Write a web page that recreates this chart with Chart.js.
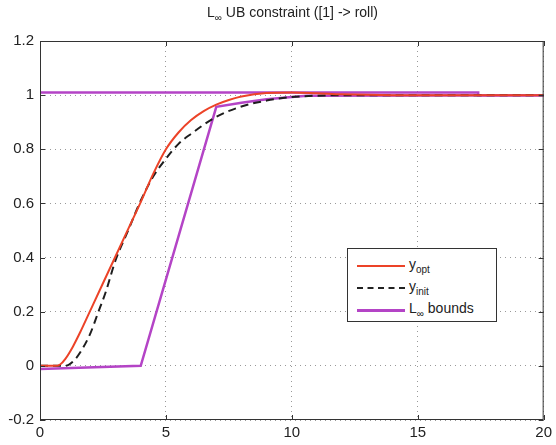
<!DOCTYPE html>
<html>
<head>
<meta charset="utf-8">
<script src="https://cdn.jsdelivr.net/npm/chart.js@4.4.1/dist/chart.umd.min.js"></script>
<style>
body { margin: 0; background: #fff; font-family: "Liberation Sans", Arial, sans-serif; }
#wrap { position: relative; width: 556px; height: 445px; }
#title { position: absolute; left: 40px; width: 505px; top: 4px; text-align: center; font-size: 14px; color: #222; z-index: 2; }
#title sub { font-size: 10px; }
#legend { position: absolute; left: 347px; top: 248px; width: 150px; height: 74px; border: 1px solid #333; background: #fff; box-sizing: border-box; z-index: 2; }
.row { position: absolute; left: 0; width: 148px; height: 22px; font-size: 14px; color: #222; }
.row .ln { position: absolute; left: 9px; width: 48px; top: 10px; }
.row .tx { position: absolute; left: 61px; top: 1px; white-space: nowrap; }
.row sub { font-size: 10px; }
</style>
</head>
<body>
<div id="wrap">
  <canvas id="chart" width="556" height="445"></canvas>
  <div id="title">L<sub>∞</sub> UB constraint ([1] -&gt; roll)</div>
  <div id="legend">
    <div class="row" style="top:6px"><div class="ln" style="border-top:2px solid #ec4328"></div><div class="tx">y<sub>opt</sub></div></div>
    <div class="row" style="top:28px"><div class="ln" style="border-top:2px dashed #222"></div><div class="tx">y<sub>init</sub></div></div>
    <div class="row" style="top:50px"><div class="ln" style="border-top:3px solid #b444c6"></div><div class="tx">L<sub>∞</sub> bounds</div></div>
  </div>
</div>
<script>
// values
const tOpt = [0, 0.6, 0.8, 1.0, 1.3, 1.6, 2.0, 2.5, 3.0, 3.5, 4.0, 4.5, 5.0, 5.5, 6.0, 6.5, 7.0, 7.5, 8.0, 9.0, 10, 11, 12, 14, 20];
const yOpt = [0, 0, 0.005, 0.025, 0.07, 0.125, 0.205, 0.305, 0.405, 0.505, 0.605, 0.71, 0.80, 0.862, 0.908, 0.941, 0.965, 0.982, 0.995, 1.008, 1.01, 1.007, 1.003, 1.0, 1.0];

const tInit = [0, 1.0, 1.3, 1.6, 2.0, 2.3, 2.6, 3.0, 3.5, 4.0, 4.5, 5.0, 5.5, 6.0, 7.0, 8.0, 9.0, 10, 11, 12, 15, 20];
const yInit = [0, 0, 0.015, 0.05, 0.12, 0.195, 0.27, 0.39, 0.5, 0.61, 0.7, 0.765, 0.82, 0.857, 0.92, 0.958, 0.98, 0.993, 0.998, 1.0, 1.0, 1.0];

const tUpper = [0, 17.4, 17.4, 20];
const yUpper = [1.01, 1.01, 1.0, 1.0];

const tLower = [0, 4, 7, 8, 9, 10, 10.6, 20];
const yLower = [-0.012, 0, 0.957, 0.972, 0.985, 0.993, 0.998, 1.0];

const xTicks = [0, 5, 10, 15, 20];
const yTicks = [-0.2, 0, 0.2, 0.4, 0.6, 0.8, 1, 1.2];

const RED = "#ec4328";
const MAG = "#b444c6";

function pts(t, y) {
  return t.map((v, i) => ({ x: v, y: y[i] }));
}

// box around the axes plus small inward ticks
const boxPlugin = {
  id: "box",
  afterDraw(chart) {
    const a = chart.chartArea;
    const ctx = chart.ctx;
    const xs = chart.scales.x, ys = chart.scales.y;
    ctx.save();
    ctx.strokeStyle = "#333";
    ctx.lineWidth = 1;
    ctx.strokeRect(a.left + 0.5, a.top + 0.5, a.right - a.left - 1, a.bottom - a.top - 1);
    ctx.beginPath();
    xTicks.forEach(v => {
      const px = Math.round(xs.getPixelForValue(v)) + 0.5;
      ctx.moveTo(px, a.bottom); ctx.lineTo(px, a.bottom - 5);
      ctx.moveTo(px, a.top); ctx.lineTo(px, a.top + 5);
    });
    yTicks.forEach(v => {
      const py = Math.round(ys.getPixelForValue(v)) + 0.5;
      ctx.moveTo(a.left, py); ctx.lineTo(a.left + 5, py);
      ctx.moveTo(a.right, py); ctx.lineTo(a.right - 5, py);
    });
    ctx.stroke();
    ctx.restore();
  }
};

new Chart(document.getElementById("chart").getContext("2d"), {
  type: "line",
  data: {
    datasets: [
      { label: "y_opt", data: pts(tOpt, yOpt), borderColor: RED, borderWidth: 2, cubicInterpolationMode: "monotone" },
      { label: "y_init", data: pts(tInit, yInit), borderColor: "#1e1e1e", borderWidth: 2, borderDash: [8, 5], cubicInterpolationMode: "monotone" },
      { label: "upper", data: pts(tUpper, yUpper), borderColor: MAG, borderWidth: 2.5 },
      { label: "lower", data: pts(tLower, yLower), borderColor: MAG, borderWidth: 2.5 }
    ]
  },
  options: {
    responsive: false,
    animation: false,
    events: [],
    elements: { point: { radius: 0 }, line: { tension: 0 } },
    layout: { padding: { top: 41, right: 11, left: 0, bottom: 0 } },
    plugins: { legend: { display: false }, tooltip: { enabled: false } },
    scales: {
      x: {
        type: "linear", min: 0, max: 20,
        afterBuildTicks: s => { s.ticks = xTicks.map(v => ({ value: v })); },
        afterFit: s => { s.height = 25; },
        grid: { color: "#999", drawTicks: false },
        border: { display: false, dash: [1, 4] },
        ticks: { color: "#222", padding: 4, font: { family: "Liberation Sans", size: 15 }, maxRotation: 0 }
      },
      y: {
        type: "linear", min: -0.2, max: 1.2,
        afterBuildTicks: s => { s.ticks = yTicks.map(v => ({ value: v })); },
        afterFit: s => { s.width = 40; },
        grid: { color: "#999", drawTicks: false },
        border: { display: false, dash: [1, 4] },
        ticks: { color: "#222", padding: 6, font: { family: "Liberation Sans", size: 15 },
          callback: v => String(Math.round(v * 10) / 10) }
      }
    }
  },
  plugins: [boxPlugin]
});
</script>
</body>
</html>
